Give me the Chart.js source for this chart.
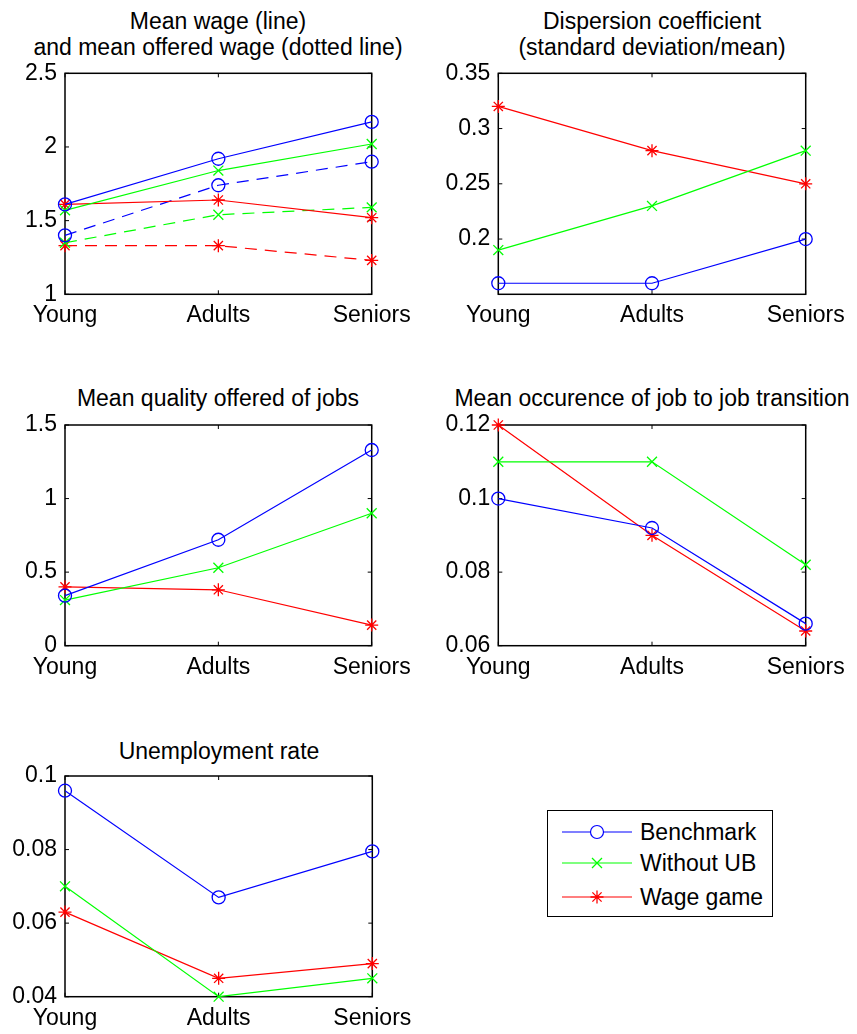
<!DOCTYPE html>
<html>
<head>
<meta charset="utf-8">
<script src="https://cdn.jsdelivr.net/npm/chart.js@4.4.1/dist/chart.umd.min.js"></script>
<style>
  html, body { margin: 0; padding: 0; background: #fff; }
  body { width: 857px; height: 1034px; position: relative; overflow: hidden;
         font-family: "Liberation Sans", Arial, Helvetica, sans-serif; color: #000; }
  .cv { position: absolute; }
  .title { position: absolute; width: 600px; text-align: center; font-size: 23px;
           line-height: 26.3px; white-space: nowrap; }
  #legend { position: absolute; left: 547px; top: 810px; width: 224px; height: 105px;
            border: 1.3px solid #000; background: #fff; }
  .lrow { position: absolute; left: 0; height: 30px; width: 224px; }
  .lrow svg { position: absolute; left: 14px; top: 0; }
  .lrow span { position: absolute; left: 92px; top: 0; line-height: 30px; font-size: 23px; white-space: nowrap; }
</style>
</head>
<body>
<div class="title" style="left:-82px; top:7.5px;">Mean wage (line)<br>and mean offered wage (dotted line)</div>
<div class="title" style="left:352px; top:7.5px;">Dispersion coefficient<br>(standard deviation/mean)</div>
<div class="title" style="left:-82px; top:385px;">Mean quality offered of jobs</div>
<div class="title" style="left:352px; top:385px;">Mean occurence of job to job transition</div>
<div class="title" style="left:-81px; top:737.5px;">Unemployment rate</div>

<canvas id="c1" class="cv" style="left:0px; top:0px;" width="430" height="340"></canvas>
<canvas id="c2" class="cv" style="left:430px; top:0px;" width="427" height="340"></canvas>
<canvas id="c3" class="cv" style="left:0px; top:370px;" width="430" height="330"></canvas>
<canvas id="c4" class="cv" style="left:430px; top:370px;" width="427" height="330"></canvas>
<canvas id="c5" class="cv" style="left:0px; top:730px;" width="430" height="304"></canvas>

<div id="legend"></div>

<script>
// ---------- DATA ----------
const categories = ['Young', 'Adults', 'Seniors'];
const seriesNames = ['Benchmark', 'Without UB', 'Wage game'];

// Mean wage (solid) and mean offered wage (dashed)
const wageBenchmark = [1.61, 1.92, 2.17];
const wageWithoutUB = [1.57, 1.84, 2.02];
const wageWageGame  = [1.61, 1.64, 1.52];
const offeredWageBenchmark = [1.40, 1.74, 1.90];
const offeredWageWithoutUB = [1.35, 1.54, 1.59];
const offeredWageWageGame  = [1.33, 1.33, 1.23];

// Dispersion coefficient
const dispBenchmark = [0.16, 0.16, 0.20];
const dispWithoutUB = [0.19, 0.23, 0.28];
const dispWageGame  = [0.32, 0.28, 0.25];

// Mean quality offered of jobs
const qualityBenchmark = [0.34, 0.72, 1.33];
const qualityWithoutUB = [0.31, 0.53, 0.90];
const qualityWageGame  = [0.40, 0.38, 0.14];

// Mean occurence of job to job transition
const j2jBenchmark = [0.100, 0.092, 0.066];
const j2jWithoutUB = [0.110, 0.110, 0.082];
const j2jWageGame  = [0.120, 0.090, 0.064];

// Unemployment rate
const unempBenchmark = [0.096, 0.067, 0.0795];
const unempWithoutUB = [0.070, 0.040, 0.045];
const unempWageGame  = [0.063, 0.045, 0.049];

// Tick labels
const yTicksWage  = [1, 1.5, 2, 2.5];
const yTicksDisp  = [0.2, 0.25, 0.3, 0.35];
const yTicksQual  = [0, 0.5, 1, 1.5];
const yTicksJ2J   = [0.06, 0.08, 0.1, 0.12];
const yTicksUnemp = [0.04, 0.06, 0.08, 0.1];

// ---------- STYLE ----------
const FONT = '"Liberation Sans", Arial, Helvetica, sans-serif';
const FSIZE = 23;
const STY = [
  { color: '#0000ff', pointStyle: 'circle',   radius: 6.5 },
  { color: '#00ff00', pointStyle: 'crossRot', radius: 7 },
  { color: '#ff0000', pointStyle: 'star',     radius: 6.5 }
];

function ds(values, k, dashed) {
  const s = STY[k];
  return {
    label: seriesNames[k] + (dashed ? ' (offered)' : ''),
    data: values,
    borderColor: s.color,
    backgroundColor: 'rgba(0,0,0,0)',
    borderWidth: 1.2,
    borderDash: dashed ? [12, 8] : [],
    pointStyle: s.pointStyle,
    pointRadius: s.radius,
    pointBorderColor: s.color,
    pointBackgroundColor: 'rgba(0,0,0,0)',
    pointBorderWidth: 1.3,
    tension: 0,
    clip: false
  };
}

// Box frame + inward tick marks (MATLAB style)
const boxPlugin = {
  id: 'boxPlugin',
  beforeDatasetsDraw(chart) {
    const { ctx, chartArea: a, scales } = chart;
    const tl = 4;
    ctx.save();
    ctx.strokeStyle = '#000';
    ctx.lineWidth = 1;
    ctx.beginPath();
    chart.options.plugins.boxPlugin.yTicks.forEach(v => {
      const y = scales.y.getPixelForValue(v);
      ctx.moveTo(a.left, y); ctx.lineTo(a.left + tl, y);
      ctx.moveTo(a.right, y); ctx.lineTo(a.right - tl, y);
    });
    categories.forEach((c, i) => {
      const x = scales.x.getPixelForValue(i);
      ctx.moveTo(x, a.bottom); ctx.lineTo(x, a.bottom - tl);
      ctx.moveTo(x, a.top); ctx.lineTo(x, a.top + tl);
    });
    ctx.stroke();
    ctx.lineWidth = 1.5;
    ctx.strokeRect(a.left, a.top, a.right - a.left, a.bottom - a.top);
    ctx.restore();
  }
};

function makeChart(id, datasets, yMin, yMax, yTicks, geo) {
  const cv = document.getElementById(id);
  return new Chart(cv, {
    type: 'line',
    data: { labels: categories, datasets },
    options: {
      responsive: false,
      animation: false,
      events: [],
      layout: { padding: { top: geo.top, right: geo.right, left: 0, bottom: 0 } },
      plugins: {
        legend: { display: false },
        title: { display: false },
        tooltip: { enabled: false },
        boxPlugin: { yTicks }
      },
      scales: {
        x: {
          type: 'category',
          offset: false,
          grid: { display: false, drawTicks: false },
          border: { display: false },
          ticks: { autoSkip: false, maxRotation: 0, minRotation: 0, padding: 8,
                   color: '#000', font: { family: FONT, size: FSIZE } },
          afterFit: s => { s.height = geo.bottom; }
        },
        y: {
          type: 'linear',
          min: yMin, max: yMax,
          grid: { display: false, drawTicks: false },
          border: { display: false },
          afterBuildTicks: s => { s.ticks = yTicks.map(v => ({ value: v })); },
          ticks: { padding: 8, color: '#000', font: { family: FONT, size: FSIZE },
                   callback: v => String(v) },
          afterFit: s => { s.width = geo.left; }
        }
      }
    },
    plugins: [boxPlugin]
  });
}

makeChart('c1', [
  ds(wageBenchmark, 0), ds(wageWithoutUB, 1), ds(wageWageGame, 2),
  ds(offeredWageBenchmark, 0, true), ds(offeredWageWithoutUB, 1, true), ds(offeredWageWageGame, 2, true)
], 1, 2.5, yTicksWage, { left: 65, right: 58.3, top: 73.3, bottom: 45.7 });

makeChart('c2', [
  ds(dispBenchmark, 0), ds(dispWithoutUB, 1), ds(dispWageGame, 2)
], 0.15, 0.35, yTicksDisp, { left: 68.3, right: 51.3, top: 73.3, bottom: 45.7 });

makeChart('c3', [
  ds(qualityBenchmark, 0), ds(qualityWithoutUB, 1), ds(qualityWageGame, 2)
], 0, 1.5, yTicksQual, { left: 65, right: 58.3, top: 55, bottom: 54.3 });

makeChart('c4', [
  ds(j2jBenchmark, 0), ds(j2jWithoutUB, 1), ds(j2jWageGame, 2)
], 0.06, 0.12, yTicksJ2J, { left: 68.3, right: 51.3, top: 55, bottom: 54.3 });

makeChart('c5', [
  ds(unempBenchmark, 0), ds(unempWithoutUB, 1), ds(unempWageGame, 2)
], 0.04, 0.1, yTicksUnemp, { left: 65, right: 57.7, top: 46, bottom: 37.3 });

// ---------- LEGEND (HTML) ----------
const legend = document.getElementById('legend');
const rowTops = [5.7, 37.3, 71];
seriesNames.forEach((name, k) => {
  const s = STY[k];
  const row = document.createElement('div');
  row.className = 'lrow';
  row.style.top = rowTops[k] + 'px';
  let marker = '';
  const cx = 35, cy = 15;
  if (s.pointStyle === 'circle') {
    marker = `<circle cx="${cx}" cy="${cy}" r="6.5" fill="#fff" stroke="${s.color}" stroke-width="1.2"/>`;
  } else if (s.pointStyle === 'crossRot') {
    const d = 5;
    marker = `<path d="M${cx-d} ${cy-d}L${cx+d} ${cy+d}M${cx-d} ${cy+d}L${cx+d} ${cy-d}" stroke="${s.color}" stroke-width="1.3"/>`;
  } else {
    const r = 6.5, d = 4.6;
    marker = `<path d="M${cx-r} ${cy}L${cx+r} ${cy}M${cx} ${cy-r}L${cx} ${cy+r}M${cx-d} ${cy-d}L${cx+d} ${cy+d}M${cx-d} ${cy+d}L${cx+d} ${cy-d}" stroke="${s.color}" stroke-width="1.3"/>`;
  }
  row.innerHTML = `<svg width="70" height="30"><line x1="0" y1="${cy}" x2="70" y2="${cy}" stroke="${s.color}" stroke-width="1.2"/>${marker}</svg><span>${name}</span>`;
  legend.appendChild(row);
});
</script>
</body>
</html>
